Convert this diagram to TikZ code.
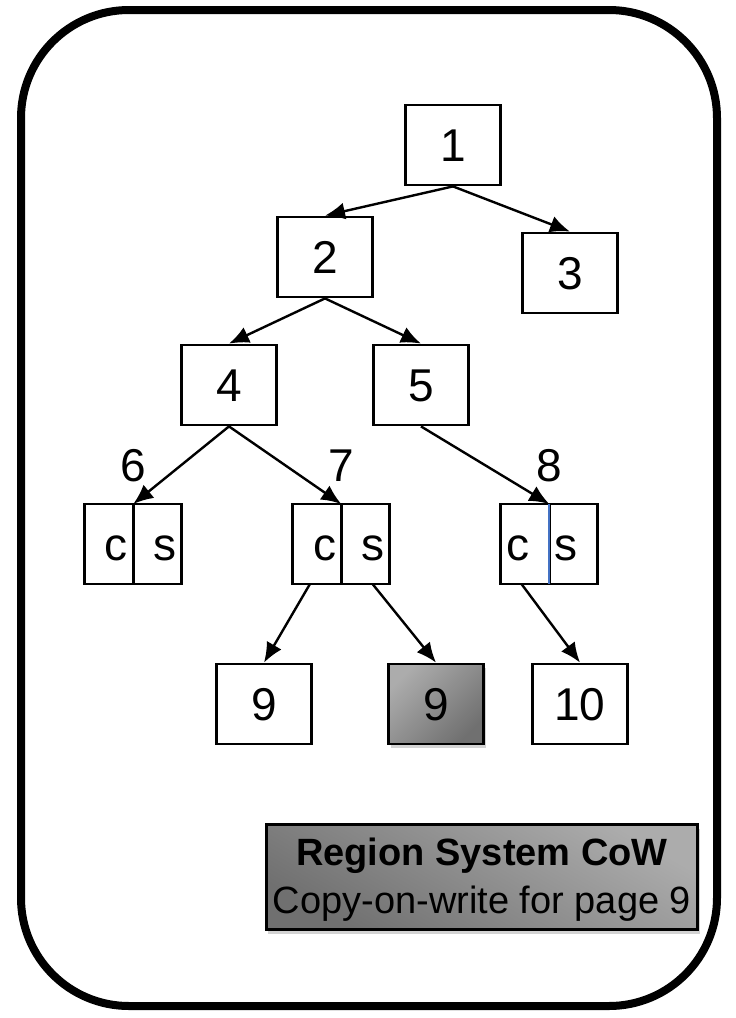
\documentclass[tikz,border=0pt]{standalone}
\usepackage{fontspec}
\setmainfont{Liberation Sans}
\usetikzlibrary{positioning,arrows.meta,shadows}
\definecolor{shadelight}{RGB}{172,172,172}
\definecolor{shadedark}{RGB}{112,112,112}
\definecolor{splitblue}{RGB}{68,114,196}

\begin{document}
\begin{tikzpicture}[x=0.5pt,y=-0.5pt,
    box/.style={draw, line width=1.4pt, minimum width=47.5pt, minimum height=40pt, inner sep=0pt,
        text height=16.5pt, text depth=0pt, font=\fontsize{23}{27}\selectfont},
    half/.style={draw, line width=1.4pt, minimum width=24.25pt, minimum height=40pt, text width=19pt,
        inner xsep=2.5pt, inner ysep=0pt, outer sep=0pt, align=right,
        text height=16.5pt, text depth=0pt, font=\fontsize{23}{27}\selectfont},
    num/.style={inner sep=1pt, text height=16.5pt, text depth=0pt, font=\fontsize{23}{27}\selectfont},
    arr/.style={-{Latex[length=10pt,width=8.5pt]}, line width=1.2pt},
    grayfill/.style={top color=shadelight, bottom color=shadedark,
        drop shadow={shadow xshift=1pt, shadow yshift=-2pt, opacity=0.35}}]
    \useasboundingbox (0,0) rectangle (735,1018);
    \draw[line width=4pt, rounded corners=54pt] (21,10) rectangle (717,1006);

    % tree of pages
    \node[box] (n1) at (453,145) {1};
    \node[box] (n2) at (325,257) {2};
    \node[box] (n3) at (570,273) {3};
    \node[box] (n4) at (229,385) {4};
    \node[box] (n5) at (421,385) {5};

    % split entries: copy | shared
    \node[half] (c6) at (109,544) {c};
    \node[half] (s6) [right=0pt of c6] {s};
    \node[half] (c7) at (317,544) {c};
    \node[half] (s7) [right=0pt of c7] {s};
    \node[half, align=left] (c8) at (525,544) {c};
    \node[half, align=left] (s8) [right=0pt of c8] {s};
    \draw[splitblue, line width=1pt] (c8.north east) -- (c8.south east);

    \node[num] (l6) [above=10pt of c6.north east] {6};
    \node[num] (l7) [above=10pt of c7.north east] {7};
    \node[num] (l8) [above=10pt of c8.north east] {8};

    \node[box] (n9) at (264,704) {9};
    \node[box, grayfill, shading angle=45] (n9w) at (436,704) {9};
    \node[box] (n10) at (580,704) {10};

    \draw[arr] (n1.south) -- (n2.north);
    \draw[arr] (n1.south) -- (n3.north);
    \draw[arr] (n2.south) -- (n4.north);
    \draw[arr] (n2.south) -- (n5.north);
    \draw[arr] (n4.south) -- (c6.north east);
    \draw[arr] (n4.south) -- (c7.north east);
    \draw[arr] (n5.south) -- (c8.north east);
    \draw[arr] (c7.260) -- (n9.north);
    \draw[arr] (s7.280) -- (n9w.north);
    \draw[arr] (c8.265) -- (n10.north);

    \node[draw, line width=1.4pt, grayfill, shading angle=-30, minimum width=215pt, minimum height=52.5pt,
        align=center, font=\fontsize{19}{24}\selectfont] (note) at (482,877)
        {\rule{0pt}{16pt}\textbf{Region System CoW}\\Copy-on-write for page 9};
\end{tikzpicture}
\end{document}
